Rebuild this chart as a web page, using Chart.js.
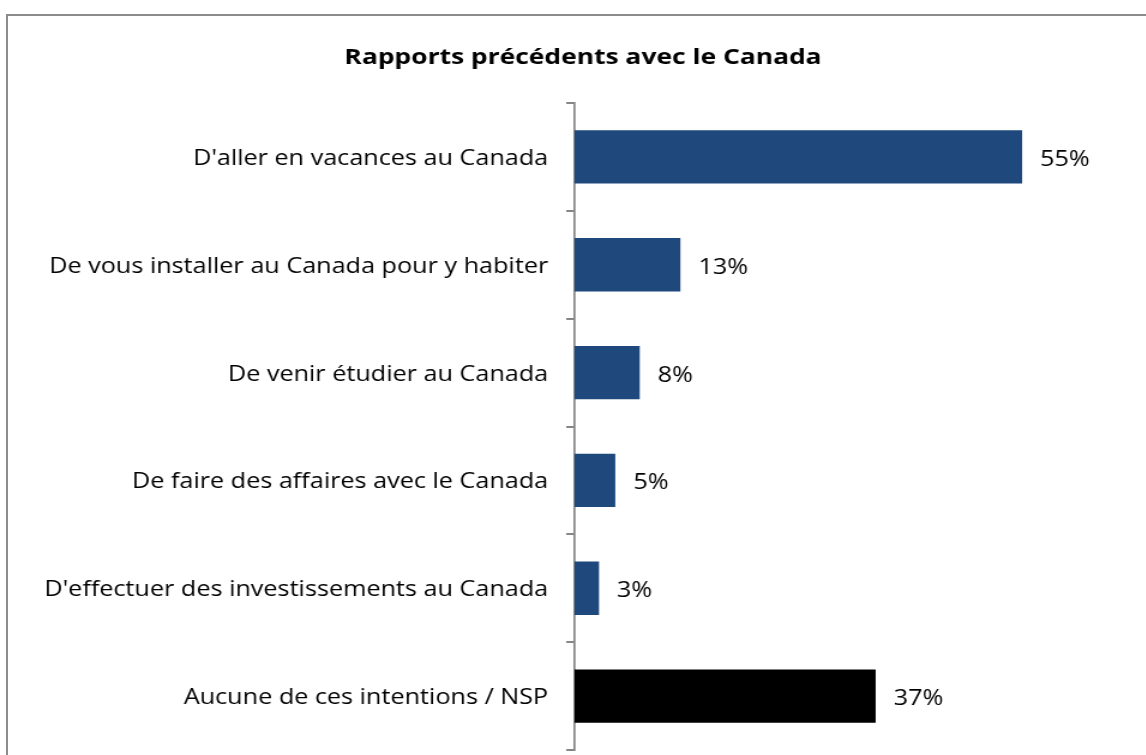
<!DOCTYPE html>
<html>
<head>
<meta charset="utf-8">
<script src="https://cdn.jsdelivr.net/npm/chart.js@4/dist/chart.umd.min.js"></script>
<style>
    html, body { margin: 0; padding: 0; background: #fff; overflow: hidden; }
    #frame { position: absolute; left: 6px; top: 14px; width: 1200px; height: 800px; border: 2px solid #8c8c8c; box-sizing: border-box; }
    #Chart { position: absolute; left: 0; top: 0; }
</style>
</head>
<body>
<div id="frame"></div>
<!-- the original picture is a bit stretched sideways, so the canvas is too -->
<canvas id="Chart" width="972" height="755" style="width:1166px;height:755px"></canvas>
<script>
const categories = [
    "D'aller en vacances au Canada",
    "De vous installer au Canada pour y habiter",
    "De venir étudier au Canada",
    "De faire des affaires avec le Canada",
    "D'effectuer des investissements au Canada",
    "Aucune de ces intentions / NSP"
];
const values = [55, 13, 8, 5, 3, 37];
const barColors = ['#1f497d', '#1f497d', '#1f497d', '#1f497d', '#1f497d', '#000000'];
const chartTitle = 'Rapports précédents avec le Canada';

const fontFamily = "'Open Sans', 'Liberation Sans', sans-serif";

// title centred on the framed box, not on the canvas
const titlePlugin = {
    id: 'titlePlugin',
    afterDraw(chart) {
        const ctx = chart.ctx;
        ctx.save();
        ctx.font = 'bold 22px ' + fontFamily;
        ctx.fillStyle = '#000';
        ctx.textAlign = 'center';
        ctx.textBaseline = 'middle';
        ctx.fillText(chartTitle, 486, 58);
        ctx.restore();
    }
};

// draw "55%" etc. to the right of each bar
const valueLabels = {
    id: 'valueLabels',
    afterDatasetsDraw(chart) {
        const ctx = chart.ctx;
        const meta = chart.getDatasetMeta(0);
        ctx.save();
        ctx.font = '21px ' + fontFamily;
        ctx.fillStyle = '#000';
        ctx.textAlign = 'left';
        ctx.textBaseline = 'middle';
        meta.data.forEach((bar, i) => {
            ctx.fillText(values[i] + '%', bar.x + 15, bar.y + 3);
        });
        ctx.restore();
    }
};

let barChartElement = document.getElementById('Chart').getContext('2d');
let barChart = new Chart(barChartElement, {
    type: 'bar',
    data: {
        labels: categories,
        datasets: [{
            data: values,
            backgroundColor: barColors,
            borderWidth: 0,
            barPercentage: 0.495,
            categoryPercentage: 1
        }]
    },
    options: {
        indexAxis: 'y',
        animation: false,
        responsive: false,
        layout: {
            padding: { left: 0, right: 86, top: 103, bottom: 5 }
        },
        plugins: {
            legend: { display: false },
            tooltip: { enabled: false },
            title: { display: false }
        },
        scales: {
            x: {
                display: false,
                min: 0,
                max: 60
            },
            y: {
                afterFit: function(scale) {
                    scale.width = 479;
                    scale.paddingTop = 0;
                    scale.paddingBottom = 0;
                },
                border: { display: true, color: '#868686', width: 1.7 },
                grid: {
                    drawOnChartArea: false,
                    drawTicks: true,
                    tickLength: 7,
                    color: '#868686',
                    lineWidth: 2,
                    offset: true
                },
                ticks: {
                    color: '#000',
                    padding: 15,
                    labelOffset: 2,
                    font: { family: fontFamily, size: 21 }
                }
            }
        }
    },
    plugins: [valueLabels, titlePlugin]
});
</script>
</body>
</html>
